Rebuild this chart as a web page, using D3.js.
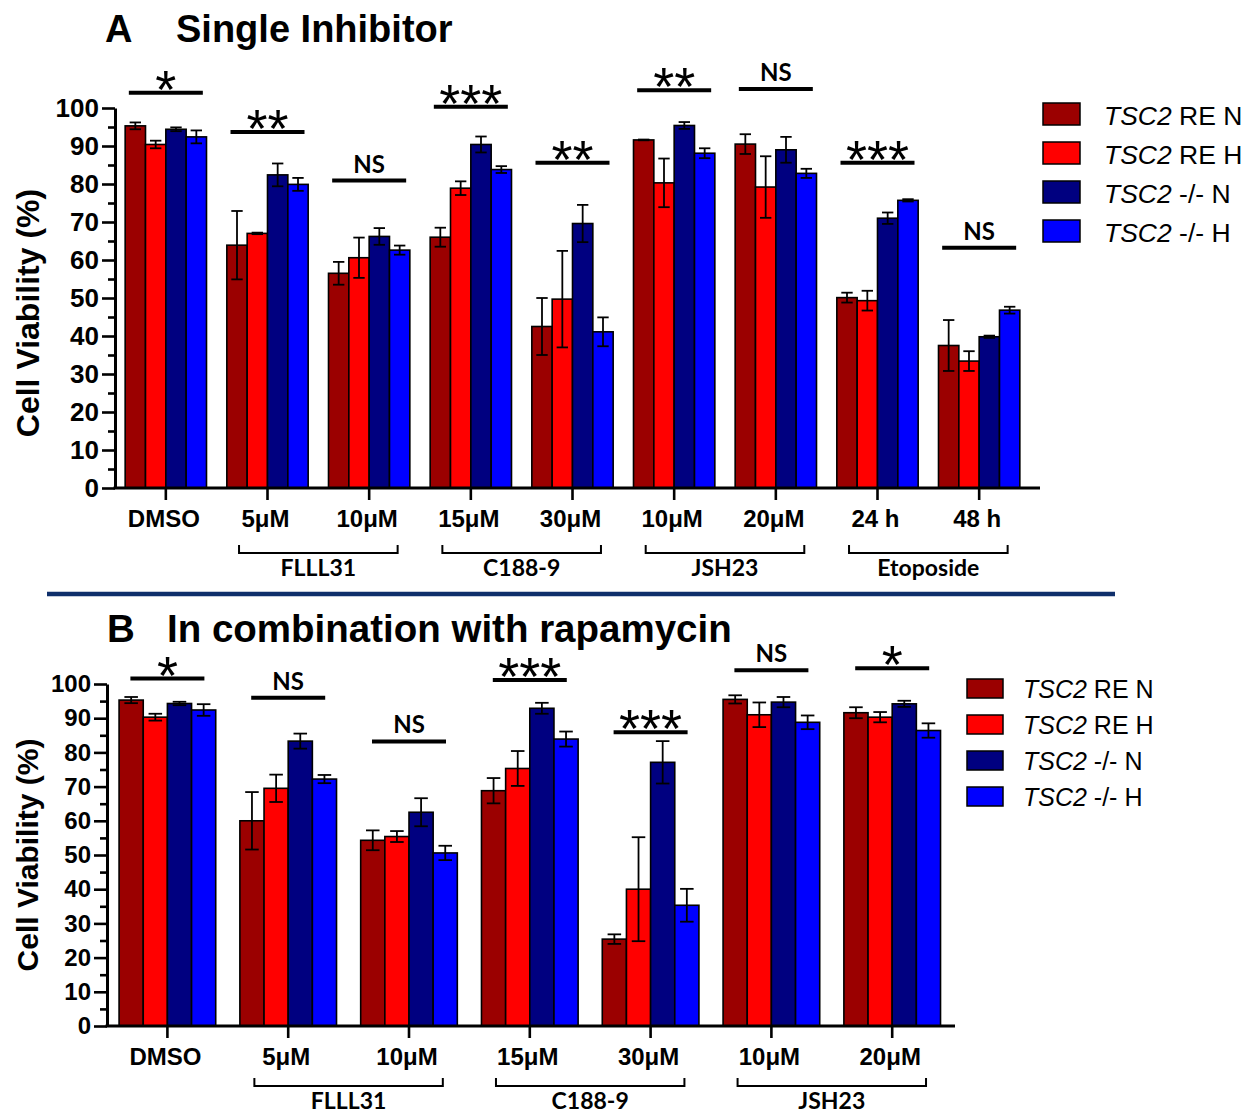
<!DOCTYPE html>
<html>
<head>
<meta charset="utf-8">
<script src="https://cdn.jsdelivr.net/npm/d3@7"></script>
<style>
  body { margin: 0; background: white; }
  svg { display: block; }
</style>
</head>
<body>
<div id="chart"></div>
<script>
var w = 1257, h = 1115;

// series (cell line / oxygen condition)
var seriesNames = ["RE N", "RE H", "-/- N", "-/- H"];
var seriesColors = ["#9b0000", "#ff0000", "#000080", "#0000ff"];

// panel A: single inhibitor
var catsA = ["DMSO", "5\u03bcM", "10\u03bcM", "15\u03bcM", "30\u03bcM", "10\u03bcM", "20\u03bcM", "24 h", "48 h"];
var reNA   = [95.3, 63.9, 56.5, 66.0, 42.5, 91.6, 90.5, 50.1, 37.5];
var reHA   = [90.4, 67.0, 60.6, 78.9, 49.7, 80.3, 79.2, 49.3, 33.4];
var koNA   = [94.4, 82.4, 66.2, 90.4, 69.6, 95.4, 89.0, 71.0, 39.8];
var koHA   = [92.4, 79.9, 62.6, 83.8, 41.1, 88.1, 82.8, 75.7, 46.8];
var reNErrA = [0.9, 9.0, 3.0, 2.5, 7.5, 0.1, 2.6, 1.3, 6.7];
var reHErrA = [1.0, 0.2, 5.3, 1.8, 12.7, 6.4, 8.1, 2.6, 2.6];
var koNErrA = [0.5, 3.0, 2.2, 2.1, 4.9, 0.9, 3.4, 1.5, 0.3];
var koHErrA = [1.7, 1.7, 1.2, 0.9, 3.8, 1.3, 1.2, 0.3, 0.9];
var sigA    = ["*", "**", "NS", "***", "**", "**", "NS", "***", "NS"];
var sigAy   = [104, 93.7, 80.9, 100.3, 85.6, 104.7, 105, 85.6, 63.2];
var groupsA = ["FLLL31", "C188-9", "JSH23", "Etoposide"];
var groupSpanA = [[1, 2], [3, 4], [5, 6], [7, 8]];

// panel B: in combination with rapamycin
var catsB = ["DMSO", "5\u03bcM", "10\u03bcM", "15\u03bcM", "30\u03bcM", "10\u03bcM", "20\u03bcM"];
var reNB   = [95.3, 60.0, 54.3, 68.8, 25.4, 95.5, 91.6];
var reHB   = [90.3, 69.5, 55.4, 75.3, 40.0, 91.0, 90.3];
var koNB   = [94.3, 83.3, 62.5, 92.9, 77.1, 94.7, 94.2];
var koHB   = [92.4, 72.2, 50.6, 83.9, 35.3, 88.8, 86.4];
var reNErrB = [0.9, 8.4, 2.9, 3.7, 1.4, 1.2, 1.6];
var reHErrB = [1.0, 4.0, 1.6, 5.1, 15.2, 3.6, 1.5];
var koNErrB = [0.5, 2.2, 4.1, 1.6, 6.2, 1.5, 0.9];
var koHErrB = [1.7, 1.2, 2.1, 2.2, 4.8, 2.0, 2.1];
var sigB    = ["*", "NS", "NS", "***", "***", "NS", "*"];
var sigBy   = [101.6, 96.0, 83.2, 101.2, 85.9, 104.0, 104.6];
var groupsB = ["FLLL31", "C188-9", "JSH23"];
var groupSpanB = [[1, 2], [3, 4], [5, 6]];

var yTicks = d3.range(0, 101, 10);
var yMinor = d3.range(5, 100, 10);

var svg = d3.select("#chart").append("svg").attr("width", w).attr("height", h);

function drawPanel(p) {
    var g = svg.append("g");
    var x = d3.scaleBand().domain(d3.range(p.cats.length)).range([p.x0, p.x1])
        .paddingInner(0.2).paddingOuter(0.1);
    var xs = d3.scaleBand().domain(d3.range(seriesNames.length)).range([0, x.bandwidth()]);
    var y = d3.scaleLinear().domain([0, 100]).range([p.y0, p.y1]);
    var bw = xs.bandwidth();

    // bars
    p.values.forEach(function (vals, s) {
        g.append("g").selectAll("rect").data(vals).join("rect")
            .attr("x", function (d, i) { return x(i) + xs(s); })
            .attr("y", function (d) { return y(d); })
            .attr("width", bw)
            .attr("height", function (d) { return y(0) - y(d); })
            .attr("fill", seriesColors[s])
            .attr("stroke", "black").attr("stroke-width", 1.6);
    });

    // error bars
    p.values.forEach(function (vals, s) {
        var eg = g.append("g").attr("stroke", "black").attr("stroke-width", 1.8);
        vals.forEach(function (v, i) {
            var e = p.errs[s][i];
            var cx = x(i) + xs(s) + bw / 2, cw = bw * 0.28;
            eg.append("line").attr("x1", cx).attr("x2", cx).attr("y1", y(v - e)).attr("y2", y(v + e));
            eg.append("line").attr("x1", cx - cw).attr("x2", cx + cw).attr("y1", y(v + e)).attr("y2", y(v + e));
            eg.append("line").attr("x1", cx - cw).attr("x2", cx + cw).attr("y1", y(v - e)).attr("y2", y(v - e));
        });
    });

    // y axis: major and minor ticks
    var ya = g.append("g").attr("transform", "translate(" + p.x0 + ",0)")
        .call(d3.axisLeft(y).tickValues(yTicks).tickSize(13).tickSizeOuter(0).tickPadding(3));
    ya.selectAll("text").attr("font-family", "Liberation Sans, Arial, sans-serif")
        .attr("font-weight", "bold").attr("font-size", p.yFont).attr("fill", "black");
    g.append("g").attr("transform", "translate(" + p.x0 + ",0)")
        .call(d3.axisLeft(y).tickValues(yMinor).tickSize(7).tickFormat(""))
        .select(".domain").remove();
    g.selectAll(".tick line").attr("stroke", "black").attr("stroke-width", 2.6);
    ya.select(".domain").attr("stroke", "black").attr("stroke-width", 3);

    // x axis
    var xa = g.append("g").attr("transform", "translate(0," + p.y0 + ")")
        .call(d3.axisBottom(x).tickSize(12).tickPadding(10).tickFormat(function (d) { return p.cats[d]; }));
    xa.select(".domain").remove();
    xa.selectAll("line").attr("stroke", "black").attr("stroke-width", 2.6);
    xa.selectAll("text").attr("font-family", "Liberation Sans, Arial, sans-serif")
        .attr("font-weight", "bold").attr("font-size", 24).attr("fill", "black").attr("dx", -2);
    g.append("line").attr("x1", p.x0 - 1.5).attr("x2", p.axisEnd)
        .attr("y1", p.y0).attr("y2", p.y0).attr("stroke", "black").attr("stroke-width", 3);

    // brackets for drug groups
    p.groups.forEach(function (name, k) {
        var a = p.spans[k][0], b = p.spans[k][1];
        var mid = (x(a) + x(b) + x.bandwidth()) / 2;
        var half = x.step() * 0.78;
        var by = p.y0 + p.bracketDy;
        g.append("path")
            .attr("d", "M" + (mid - half) + "," + (by - 8) + "V" + by + "H" + (mid + half) + "V" + (by - 8))
            .attr("fill", "none").attr("stroke", "black").attr("stroke-width", 2);
        g.append("text").attr("x", mid).attr("y", by + 23).attr("text-anchor", "middle")
            .attr("font-family", "Lato, sans-serif").attr("font-weight", "bold").attr("font-size", 23)
            .text(name);
    });

    // significance lines
    p.sig.forEach(function (lab, i) {
        var cx = x(i) + x.bandwidth() / 2, ly = y(p.sigY[i]);
        g.append("line").attr("x1", cx - 37).attr("x2", cx + 37).attr("y1", ly).attr("y2", ly)
            .attr("stroke", "black").attr("stroke-width", 4);
        var t = g.append("text").attr("x", cx).attr("text-anchor", "middle").attr("fill", "black");
        if (lab == "NS") {
            t.attr("y", ly - 8).attr("font-family", "Lato, sans-serif").attr("font-weight", "bold")
                .attr("font-size", 24).text(lab);
        } else {
            t.attr("y", ly + 15).attr("font-family", "Liberation Sans, Arial, sans-serif")
                .attr("font-size", 54).attr("letter-spacing", 0).text(lab);
        }
    });

    // title
    var tg = g.append("text").attr("y", p.titleY).attr("font-family", "Liberation Sans, Arial, sans-serif")
        .attr("font-weight", "bold").attr("font-size", p.titleFont);
    tg.append("tspan").attr("x", p.letterX).text(p.letter);
    tg.append("tspan").attr("x", p.titleX).text(p.title);

    // y label
    g.append("text")
        .attr("transform", "translate(" + p.ylabX + "," + p.ylabY + ") rotate(-90)")
        .attr("text-anchor", "middle").attr("font-family", "Liberation Sans, Arial, sans-serif")
        .attr("font-weight", "bold").attr("font-size", p.ylabFont).text("Cell Viability (%)");

    // legend
    var lg = g.append("g").attr("transform", "translate(" + p.legX + "," + p.legY + ")");
    seriesNames.forEach(function (name, s) {
        var row = lg.append("g").attr("transform", "translate(0," + s * p.legStep + ")");
        row.append("rect").attr("width", p.legW).attr("height", p.legH)
            .attr("fill", seriesColors[s]).attr("stroke", "black").attr("stroke-width", 1.5);
        var t = row.append("text").attr("x", p.legTextX).attr("y", p.legH)
            .attr("font-family", "Liberation Sans, Arial, sans-serif").attr("font-size", p.legFont);
        t.append("tspan").attr("font-style", "italic").text("TSC2");
        t.append("tspan").text(" " + name);
    });
}

drawPanel({
    cats: catsA, values: [reNA, reHA, koNA, koHA], errs: [reNErrA, reHErrA, koNErrA, koHErrA],
    sig: sigA, sigY: sigAy, groups: groupsA, spans: groupSpanA,
    x0: 115, x1: 1030, axisEnd: 1040, y0: 488, y1: 108, yFont: 26, bracketDy: 65,
    letter: "A", title: "Single Inhibitor", letterX: 105, titleX: 176, titleY: 42, titleFont: 38,
    ylabX: 39, ylabY: 313, ylabFont: 32,
    legX: 1043, legY: 103, legStep: 39, legW: 37, legH: 22, legTextX: 61, legFont: 26.5
});

drawPanel({
    cats: catsB, values: [reNB, reHB, koNB, koHB], errs: [reNErrB, reHErrB, koNErrB, koHErrB],
    sig: sigB, sigY: sigBy, groups: groupsB, spans: groupSpanB,
    x0: 107, x1: 952.6, axisEnd: 955, y0: 1026, y1: 684, yFont: 24, bracketDy: 60,
    letter: "B", title: "In combination with rapamycin", letterX: 107, titleX: 167, titleY: 642, titleFont: 38.5,
    ylabX: 38, ylabY: 855, ylabFont: 30,
    legX: 967, legY: 679, legStep: 36, legW: 36, legH: 19, legTextX: 56, legFont: 25
});

// separator between panels
svg.append("line").attr("x1", 47).attr("x2", 1115).attr("y1", 594).attr("y2", 594)
    .attr("stroke", "#0f2f6b").attr("stroke-width", 4.5);
</script>
</body>
</html>
